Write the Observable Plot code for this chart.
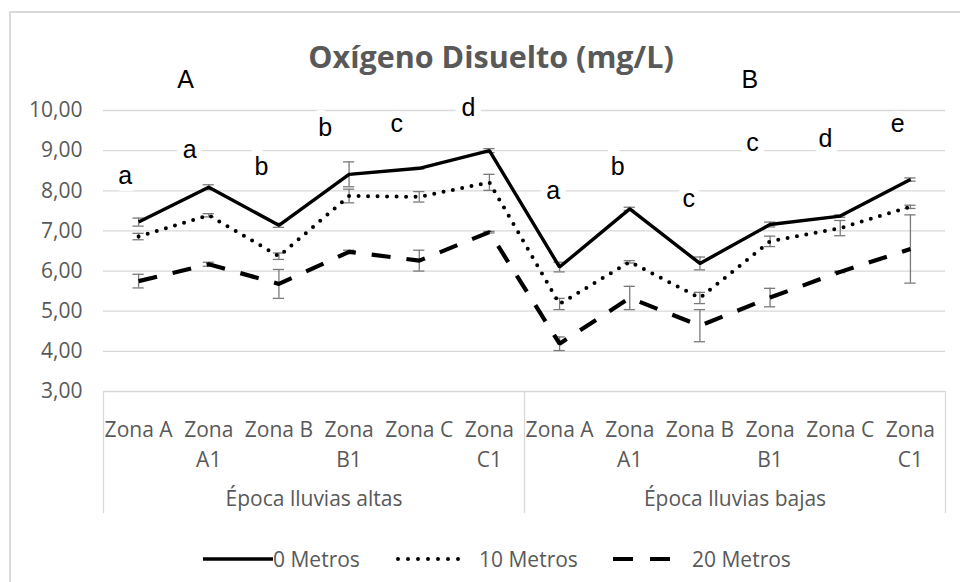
<!DOCTYPE html>
<html>
<head>
<meta charset="utf-8">
<script src="https://cdn.jsdelivr.net/npm/d3@7"></script>
<script src="https://cdn.jsdelivr.net/npm/@observablehq/plot@0.6"></script>
<style>
  html, body { margin: 0; padding: 0; background: #fff; overflow: hidden; }
  #wrap { position: relative; width: 960px; height: 582px; overflow: hidden; }
  #border { position: absolute; left: 9px; top: 11px; width: 1000px; height: 1000px; border: 2px solid #d9d9d9; box-sizing: border-box; }
  #chart { position: absolute; left: 0; top: 0; }
  #overlay { position: absolute; left: 0; top: 0; pointer-events: none; }
</style>
</head>
<body>
<div id="wrap">
  <div id="border"></div>
  <div id="chart"></div>
  <svg id="overlay" width="960" height="582"></svg>
</div>
<script>
// ---------- data ----------
const title = "Oxígeno Disuelto (mg/L)";
const zones = ["Zona A", "Zona A1", "Zona B", "Zona B1", "Zona C", "Zona C1"];
const seasons = ["Época lluvias altas", "Época lluvias bajas"];
const seriesNames = ["0 Metros", "10 Metros", "20 Metros"];

// values: 6 zones of "altas" followed by 6 zones of "bajas"
const metros0  = [7.22, 8.09, 7.14, 8.41, 8.56, 9.00, 6.10, 7.55, 6.19, 7.16, 7.37, 8.28];
const metros10 = [6.86, 7.39, 6.37, 7.87, 7.85, 8.21, 5.18, 6.23, 5.33, 6.74, 7.07, 7.60];
const metros20 = [5.75, 6.17, 5.68, 6.48, 6.26, 6.97, 4.19, 5.33, 4.64, 5.34, 5.98, 6.55];

const err0  = [0.10, 0.06, 0.05, 0.31, 0.02, 0.05, 0.12, 0.04, 0.16, 0.06, 0.03, 0.04];
const err10 = [0.08, 0.04, 0.08, 0.17, 0.13, 0.20, 0.14, 0.03, 0.14, 0.13, 0.19, 0.04];
const err20 = [0.17, 0.05, 0.36, 0.04, 0.26, 0.02, 0.17, 0.29, 0.40, 0.23, 0.02, 0.85];

const yTicks = [3, 4, 5, 6, 7, 8, 9, 10];

// significance letters (x in category index units, y in mg/L)
const letterText = ["A", "a", "a", "b", "b", "c", "d", "B", "a", "b", "c", "c", "d", "e"];
const letterX    = [0.67, -0.19, 0.73, 1.75, 2.66, 3.68, 4.70, 8.71, 5.91, 6.83, 7.84, 8.75, 9.79, 10.82];
const letterY    = [10.76, 8.38, 9.01, 8.59, 9.57, 9.67, 10.07, 10.76, 8.00, 8.59, 7.79, 9.18, 9.30, 9.67];

// ---------- build tables ----------
const idx = d3.range(12);
const categories = idx.map(i => ({ i, zone: zones[i % 6], season: seasons[Math.floor(i / 6)] }));
const allValues = [metros0, metros10, metros20];
const allErrors = [err0, err10, err20];
const rows = seriesNames.flatMap((s, k) => idx.map(i => ({ serie: s, i, v: allValues[k][i], e: allErrors[k][i] })));
const caps = rows.flatMap(d => [{ i: d.i, y: d.v - d.e }, { i: d.i, y: d.v + d.e }]);
const letters = letterText.map((t, k) => ({ t, x: letterX[k], y: letterY[k] }));

const styles = [
  { strokeWidth: 3.4, strokeDasharray: null, strokeLinecap: "butt" },
  { strokeWidth: 4, strokeDasharray: "0 9.5", strokeLinecap: "round" },
  { strokeWidth: 4.2, strokeDasharray: "19 16", strokeLinecap: "butt" }
];

const gray = "#595959";
const font = "'Open Sans', 'Noto Sans', sans-serif";
const pxPerUnit = (391 - 110) / 7;

const chart = Plot.plot({
  width: 960,
  height: 582,
  marginTop: 110,
  marginBottom: 191,
  marginLeft: 103,
  marginRight: 15,
  style: { background: "transparent", fontFamily: font },
  x: { domain: [-0.5, 11.5], axis: null },
  y: { domain: [3, 10], axis: null },
  marks: [
    Plot.gridY(yTicks, { stroke: "#d9d9d9", strokeOpacity: 1, strokeWidth: 1.3 }),
    Plot.axisY(yTicks, {
      tickSize: 0, tickPadding: 21, fontSize: 21, fill: gray, label: null,
      tickFormat: d => d.toFixed(2).replace(".", ",")
    }),
    Plot.ruleX([-0.5, 5.5, 11.5], { y1: 3, y2: 3 - 122 / pxPerUnit, stroke: "#d9d9d9", strokeWidth: 1.3 }),
    Plot.text(categories, {
      x: "i", y: 3, text: d => d.zone.replace(/ (\w\d)$/, "\n$1"),
      lineAnchor: "top", dy: 24.5, fontSize: 21, lineHeight: 1.43, fill: gray, fontFamily: font
    }),
    Plot.text(seasons, {
      x: (d, k) => k * 6 + 2.5, y: 3, text: d => d,
      lineAnchor: "middle", dy: 107.5, fontSize: 21, fill: gray, fontFamily: font
    }),
    Plot.text(letters, {
      x: "x", y: "y", text: "t", fontSize: 25, fill: "black",
      fontFamily: "'Liberation Sans', Arial, sans-serif",
      stroke: "white", strokeWidth: 14, lineAnchor: "middle"
    }),
    Plot.ruleX(rows, { x: "i", y1: d => d.v - d.e, y2: d => d.v + d.e, stroke: "#7a7a7a", strokeWidth: 1.3 }),
    Plot.ruleY(caps, { y: "y", x1: d => d.i - 0.08, x2: d => d.i + 0.08, stroke: "#7a7a7a", strokeWidth: 1.3 }),
    ...seriesNames.map((s, k) => Plot.line(rows.filter(d => d.serie === s), {
      x: "i", y: "v", stroke: "black",
      strokeWidth: styles[k].strokeWidth,
      strokeDasharray: styles[k].strokeDasharray,
      strokeLinecap: styles[k].strokeLinecap,
      strokeLinejoin: "miter"
    }))
  ]
});
document.getElementById("chart").appendChild(chart);

// ---------- title & legend (real text) ----------
const ov = d3.select("#overlay");
ov.append("text")
  .attr("x", 491).attr("y", 68)
  .attr("text-anchor", "middle")
  .attr("font-family", font).attr("font-weight", 700).attr("font-size", 30.5)
  .attr("fill", gray)
  .text(title);

const legendItems = [
  { name: seriesNames[0], x0: 203, x1: 273, tx: 273 },
  { name: seriesNames[1], x0: 398, x1: 468, tx: 479 },
  { name: seriesNames[2], x0: 613, x1: 670, tx: 692 }
];
const legendDash = [null, "0 10", "20 17"];
legendItems.forEach((it, k) => {
  ov.append("line")
    .attr("x1", it.x0).attr("x2", it.x1).attr("y1", 559).attr("y2", 559)
    .attr("stroke", "black")
    .attr("stroke-width", k === 0 ? 3.5 : 4)
    .attr("stroke-linecap", k === 1 ? "round" : "butt")
    .attr("stroke-dasharray", legendDash[k]);
  ov.append("text")
    .attr("x", it.tx).attr("y", 566.5)
    .attr("font-family", font).attr("font-size", 21)
    .attr("fill", gray)
    .text(it.name);
});
</script>
</body>
</html>
